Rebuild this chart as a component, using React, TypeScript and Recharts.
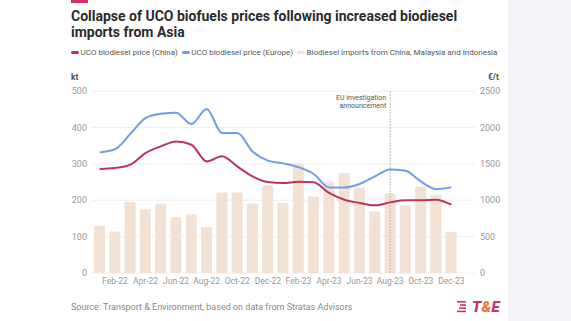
import React from 'react';
import { ComposedChart, Bar, Line, XAxis, YAxis, CartesianGrid, ReferenceLine } from 'recharts';

const months = [
  'Jan-22', 'Feb-22', 'Mar-22', 'Apr-22', 'May-22', 'Jun-22', 'Jul-22', 'Aug-22', 'Sep-22', 'Oct-22', 'Nov-22', 'Dec-22',
  'Jan-23', 'Feb-23', 'Mar-23', 'Apr-23', 'May-23', 'Jun-23', 'Jul-23', 'Aug-23', 'Sep-23', 'Oct-23', 'Nov-23', 'Dec-23',
];
// kt
const imports = [130, 114, 195, 175, 190, 153, 161, 126, 221, 221, 191, 241, 192, 300, 210, 249, 275, 234, 169, 218, 186, 237, 215, 113];
// €/t
const chinaPrice = [1429, 1442, 1488, 1648, 1739, 1808, 1762, 1533, 1602, 1464, 1327, 1250, 1236, 1252, 1245, 1099, 1007, 962, 929, 970, 998, 998, 1007, 938];
const europePrice = [1657, 1700, 1909, 2129, 2188, 2202, 2047, 2253, 1923, 1923, 1670, 1543, 1506, 1455, 1360, 1176, 1176, 1222, 1327, 1423, 1405, 1258, 1154, 1176];

const leftTicks = [0, 100, 200, 300, 400, 500];
const rightTicks = [0, 500, 1000, 1500, 2000, 2500];

const CHINA = '#b9345f';
const EUROPE = '#6f9de6';
const BARS = '#f3e2d4';

const data = months.map((m, i) => ({
  month: m,
  imports: imports[i],
  china: chinaPrice[i],
  europe: europePrice[i],
}));

const legendItems = [
  { label: 'UCO biodiesel price (China)', color: CHINA },
  { label: 'UCO biodiesel price (Europe)', color: EUROPE },
  { label: 'Biodiesel imports from China, Malaysia and Indonesia', color: BARS },
];

const EuLabel = (props: any) => {
  const { viewBox } = props;
  const x = viewBox.x - 4;
  return (
    <text x={x} y={viewBox.y + 9} textAnchor="end" fontSize={7} fill="#555555" stroke="none">
      <tspan x={x}>EU investigation</tspan>
      <tspan x={x} dy={8}>announcement</tspan>
    </text>
  );
};

export default function App() {
  return (
    <div
      style={{
        position: 'absolute',
        left: 0,
        top: 0,
        width: 571,
        height: 321,
        background: '#fff',
        fontFamily: 'Roboto, sans-serif',
        overflow: 'hidden',
      }}
    >
      <div style={{ position: 'absolute', left: 508, top: 0, width: 63, height: 321, background: '#f4f5f8' }} />
      <div style={{ position: 'absolute', left: 71, top: 0, width: 17, height: 3, background: '#c8336e' }} />
      <div
        style={{
          position: 'absolute',
          left: 71,
          top: 9,
          width: 430,
          fontSize: 14,
          lineHeight: '15.5px',
          fontWeight: 700,
          color: '#2b2b2b',
        }}
      >
        Collapse of UCO biofuels prices following increased biodiesel imports from Asia
      </div>
      <div style={{ position: 'absolute', left: 71, top: 48, display: 'flex', alignItems: 'center', fontSize: 8, color: '#555', whiteSpace: 'nowrap' }}>
        {legendItems.map((it) => (
          <div key={it.label} style={{ display: 'flex', alignItems: 'center', marginRight: 4 }}>
            <span style={{ display: 'inline-block', width: 8, height: 3.5, borderRadius: 2, background: it.color, marginRight: 1.5 }} />
            <span>{it.label}</span>
          </div>
        ))}
      </div>
      <div style={{ position: 'absolute', left: 71, top: 72, fontSize: 8.5, fontWeight: 600, color: '#444' }}>kt</div>
      <div style={{ position: 'absolute', left: 488, top: 72, fontSize: 8.5, fontWeight: 600, color: '#444' }}>€/t</div>

      <div style={{ position: 'absolute', left: 62, top: 80 }}>
        <ComposedChart width={446} height={215} data={data} margin={{ top: 11, right: 0, bottom: 0, left: 0 }} barSize={11}>
          <CartesianGrid vertical={false} stroke="#eeeeee" yAxisId="left" />
          <XAxis
            dataKey="month"
            axisLine={false}
            tickLine={false}
            tickSize={0}
            tickMargin={5}
            height={22}
            interval={0}
            padding={{ left: 0, right: 16 }}
            tick={{ fontSize: 8.5, fill: '#999' }}
            tickFormatter={(v: string, i: number) => (i % 2 === 1 ? v : '')}
          />
          <YAxis
            yAxisId="left"
            width={30}
            domain={[0, 500]}
            ticks={leftTicks}
            axisLine={false}
            tickLine={false}
            tickSize={0}
            tickMargin={5}
            tick={{ fontSize: 9, fill: '#999' }}
          />
          <YAxis
            yAxisId="right"
            orientation="right"
            width={33}
            domain={[0, 2500]}
            ticks={rightTicks}
            axisLine={false}
            tickLine={false}
            tickSize={0}
            tickMargin={5}
            tick={{ fontSize: 9, fill: '#999' }}
          />
          <Bar yAxisId="left" dataKey="imports" fill={BARS} isAnimationActive={false} />
          <ReferenceLine yAxisId="left" x="Aug-23" stroke="#bbbbbb" strokeDasharray="2 1" label={<EuLabel />} />
          <Line yAxisId="right" type="monotone" dataKey="europe" stroke={EUROPE} strokeWidth={2} dot={false} isAnimationActive={false} />
          <Line yAxisId="right" type="monotone" dataKey="china" stroke={CHINA} strokeWidth={2} dot={false} isAnimationActive={false} />
        </ComposedChart>
      </div>

      <div style={{ position: 'absolute', left: 71, top: 302, fontSize: 9, color: '#888' }}>
        Source: Transport &amp; Environment, based on data from Stratas Advisors
      </div>
      <div style={{ position: 'absolute', left: 455, top: 298, display: 'flex', alignItems: 'center' }}>
        <svg width={13} height={14} style={{ marginRight: 4 }}>
          <rect x={2} y={1} width={9} height={1.6} fill="#c8336e" />
          <rect x={5} y={4.2} width={6} height={1.6} fill="#c8336e" />
          <rect x={4} y={7.4} width={7} height={1.6} fill="#c8336e" />
          <rect x={2} y={10.6} width={9} height={1.6} fill="#c8336e" />
        </svg>
        <span style={{ fontSize: 15, fontWeight: 900, fontStyle: 'italic', color: '#c8336e', letterSpacing: 0.3 }}>
          T<span style={{ color: '#f0783c' }}>&amp;</span>E
        </span>
      </div>
    </div>
  );
}
